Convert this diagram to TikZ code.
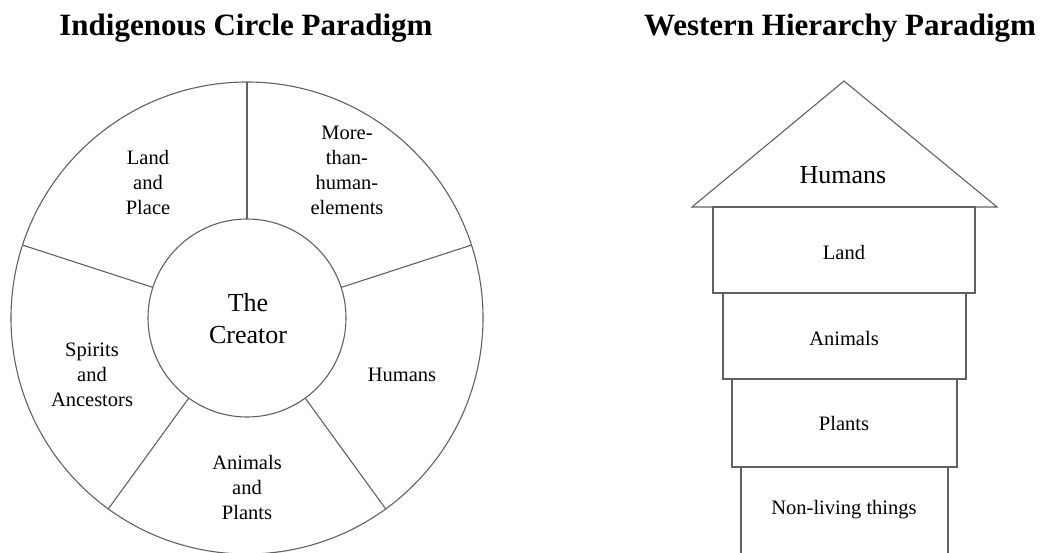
\documentclass[tikz,border=0pt]{standalone}
\usepackage{fontspec}
\setmainfont{Liberation Serif}
\usetikzlibrary{calc}
\begin{document}
\begin{tikzpicture}[x=1pt,y=-1pt,
  line/.style={draw=black!62,line width=1.1pt},
  title/.style={font=\fontsize{31}{36}\selectfont\bfseries,anchor=base},
  lbl/.style={font=\fontsize{20.5}{25}\selectfont,align=center,inner sep=0pt},
  big/.style={font=\fontsize{26}{32}\selectfont,align=center,inner sep=0pt},
  tier/.style={line,fill=white}]
\useasboundingbox (0,0) rectangle (1042,552);
% titles
\node[title] (t1) at (246,35) {Indigenous Circle Paradigm};
\node[title] (t2) at (840,35) {Western Hierarchy Paradigm};
% circle
\coordinate (c) at (247,318);
\draw[line] (c) circle[radius=236];
\draw[line] (c) circle[radius=99];
\foreach \a in {90,18,-54,-126,162}
  \draw[line] ($(c)+(-\a:99)$) -- ($(c)+(-\a:236)$);
\node[big] (creator) at (248,319) {The\\Creator};
\node[lbl] (land) at (148,182) {Land\\and\\Place};
\node[lbl] (more) at (347,170) {More-\\than-\\human-\\elements};
\node[lbl] (spirits) at (92,375) {Spirits\\and\\Ancestors};
\node[lbl] (hum) at (402,375) {Humans};
\node[lbl] (anim) at (247,487) {Animals\\and\\Plants};
% house
\draw[line,line join=miter] (692,207) -- (844,81) -- (997,207) -- cycle;
\draw[tier] (741,467) rectangle (948,560);
\draw[tier] (732,379) rectangle (957,467);
\draw[tier] (723,293) rectangle (966,379);
\draw[tier] (713,207) rectangle (975,293);
\node[big] (h) at (843,175) {Humans};
\node[lbl] (l) at (844,252) {Land};
\node[lbl] (a) at (844,338) {Animals};
\node[lbl] (p) at (844,423) {Plants};
\node[lbl] (n) at (844,510) {Non-living things};
\end{tikzpicture}
\end{document}
